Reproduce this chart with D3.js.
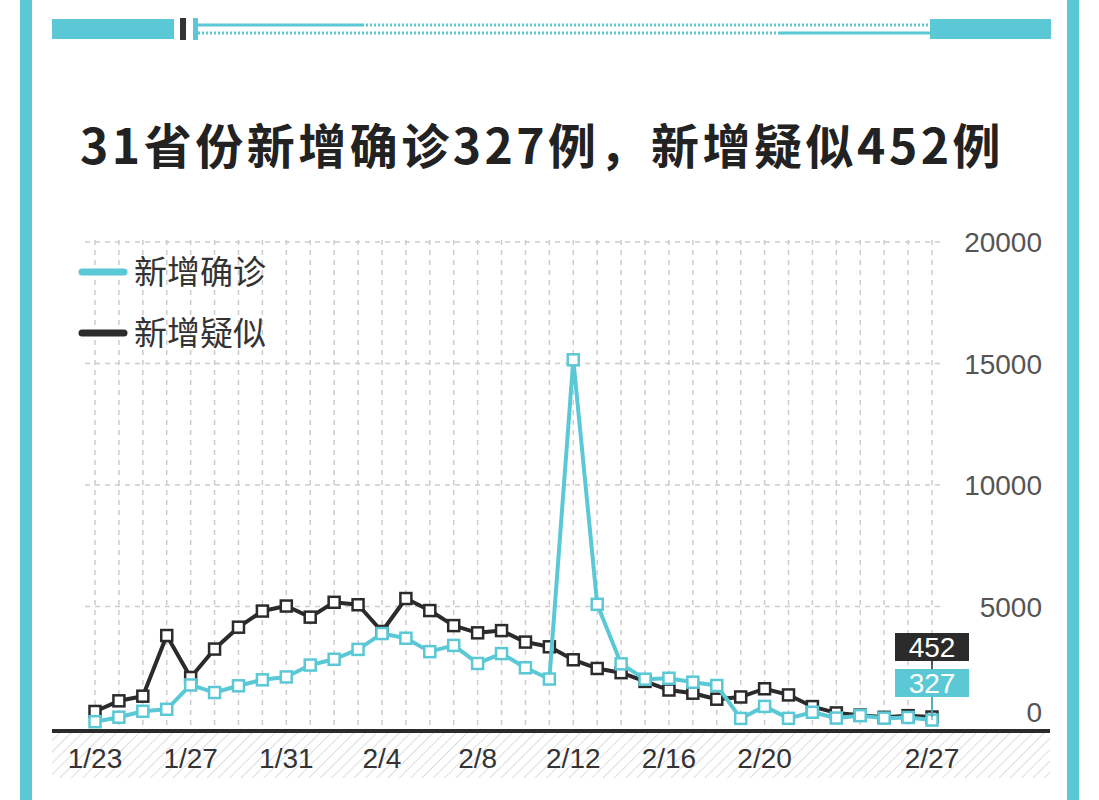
<!DOCTYPE html>
<html><head><meta charset="utf-8">
<script src="https://cdn.jsdelivr.net/npm/d3@7"></script>
<style>body{margin:0;background:#fff}svg{display:block}</style>
</head><body>
<svg id="c" width="1099" height="800"></svg>
<script>
const dates=["1/23","1/24","1/25","1/26","1/27","1/28","1/29","1/30","1/31","2/1","2/2","2/3","2/4","2/5","2/6","2/7","2/8","2/9","2/10","2/11","2/12","2/13","2/14","2/15","2/16","2/17","2/18","2/19","2/20","2/21","2/22","2/23","2/24","2/25","2/26","2/27"];
const confirmed=[259,444,688,769,1771,1459,1737,1982,2102,2590,2829,3235,3887,3694,3143,3399,2656,3062,2478,2015,15152,5090,2641,2009,2048,1886,1749,394,889,397,648,409,508,406,433,327];
const suspected=[680,1118,1309,3806,2077,3248,4148,4812,5019,4562,5173,5072,3971,5328,4833,4214,3916,4008,3536,3342,2807,2450,2277,1918,1563,1432,1185,1277,1614,1361,882,620,530,439,508,452];
const tickDates=["1/23","1/27","1/31","2/4","2/8","2/12","2/16","2/20","2/27"];
const yTicks=[0,5000,10000,15000,20000];
const teal="#5bc8d6", dark="#2b2b2b";
const svg=d3.select("#c");
svg.append("rect").attr("width",1099).attr("height",800).attr("fill","#fff");
svg.append("rect").attr("x",20).attr("y",0).attr("width",12).attr("height",800).attr("fill",teal);
svg.append("rect").attr("x",1067).attr("y",0).attr("width",12).attr("height",800).attr("fill",teal);
svg.append("rect").attr("x",52).attr("y",19).attr("width",122).attr("height",20).attr("fill",teal);
svg.append("rect").attr("x",930).attr("y",19).attr("width",121).attr("height",20).attr("fill",teal);
svg.append("rect").attr("x",180).attr("y",18).attr("width",6).attr("height",22).attr("fill","#333");
svg.append("rect").attr("x",193).attr("y",18).attr("width",5).attr("height",22).attr("fill",teal);
svg.append("line").attr("x1",198).attr("x2",362).attr("y1",25).attr("y2",25).attr("stroke",teal).attr("stroke-width",3);
svg.append("line").attr("x1",362).attr("x2",930).attr("y1",25).attr("y2",25).attr("stroke",teal).attr("stroke-width",3).attr("stroke-dasharray","2,2");
svg.append("line").attr("x1",198).attr("x2",780).attr("y1",33).attr("y2",33).attr("stroke",teal).attr("stroke-width",3).attr("stroke-dasharray","2,2");
svg.append("line").attr("x1",780).attr("x2",930).attr("y1",33).attr("y2",33).attr("stroke",teal).attr("stroke-width",3);
svg.append("text").attr("x",80).attr("y",164).text("31省份新增确诊327例，新增疑似452例")
 .attr("font-family","Noto Sans CJK SC").attr("font-weight","bold").attr("font-size",48).attr("letter-spacing",3.5).attr("fill","#222");
const x=d3.scalePoint().domain(dates).range([95,932]);
const y=d3.scaleLinear().domain([0,20000]).range([728,242]);
const defs=svg.append("defs");
const p=defs.append("pattern").attr("id","h").attr("width",8).attr("height",8).attr("patternUnits","userSpaceOnUse").attr("patternTransform","rotate(45)");
p.append("line").attr("x1",0).attr("y1",0).attr("x2",0).attr("y2",8).attr("stroke","#ddd").attr("stroke-width",2);
svg.append("rect").attr("x",52).attr("y",733).attr("width",998).attr("height",45).attr("fill","url(#h)");
svg.append("g").selectAll("line").data(dates).join("line").attr("x1",d=>x(d)).attr("x2",d=>x(d)).attr("y1",240).attr("y2",728)
 .attr("stroke","#ccc").attr("stroke-width",1.5).attr("stroke-dasharray","5,5");
svg.append("g").selectAll("line").data(yTicks.slice(1)).join("line").attr("x1",85).attr("x2",945).attr("y1",d=>y(d)).attr("y2",d=>y(d))
 .attr("stroke","#ccc").attr("stroke-width",1.5).attr("stroke-dasharray","5,5");
svg.append("g").selectAll("text").data(yTicks).join("text").attr("x",1042).attr("y",d=>y(d)+(d===0?-6:10)).attr("text-anchor","end")
 .attr("font-family","Liberation Sans").attr("font-size",28).attr("fill","#555").text(d=>d);
svg.append("line").attr("x1",52).attr("x2",1050).attr("y1",731).attr("y2",731).attr("stroke",dark).attr("stroke-width",4);
svg.append("g").selectAll("text").data(tickDates).join("text").attr("x",d=>x(d)).attr("y",768).attr("text-anchor","middle")
 .attr("font-family","Liberation Sans").attr("font-size",28).attr("fill","#333").text(d=>d);
function series(vals,col){
 const pts=dates.map((d,i)=>[x(d),y(vals[i])]);
 svg.append("path").attr("d",d3.line()(pts)).attr("fill","none").attr("stroke",col).attr("stroke-width",4).attr("stroke-linejoin","round");
 svg.append("g").selectAll("rect").data(pts).join("rect").attr("x",d=>d[0]-5.5).attr("y",d=>d[1]-5.5).attr("width",11).attr("height",11)
  .attr("fill","#fff").attr("stroke",col).attr("stroke-width",2.5);
}
series(suspected,dark);
series(confirmed,teal);
const ex=x("2/27");
svg.append("line").attr("x1",ex).attr("x2",ex).attr("y1",660).attr("y2",y(452)).attr("stroke",dark).attr("stroke-width",1.5);
svg.append("line").attr("x1",ex).attr("x2",ex).attr("y1",697).attr("y2",y(327)).attr("stroke",teal).attr("stroke-width",1.5);
svg.append("rect").attr("x",895).attr("y",633).attr("width",74).attr("height",28).attr("fill",dark);
svg.append("text").attr("x",932).attr("y",657).attr("text-anchor","middle").attr("font-family","Liberation Sans").attr("font-size",28).attr("fill","#fff").text(suspected[35]);
svg.append("rect").attr("x",895).attr("y",669).attr("width",74).attr("height",28).attr("fill",teal);
svg.append("text").attr("x",932).attr("y",693).attr("text-anchor","middle").attr("font-family","Liberation Sans").attr("font-size",28).attr("fill","#fff").text(confirmed[35]);
const leg=[["新增确诊",teal,272],["新增疑似",dark,333]];
leg.forEach(l=>{
 svg.append("line").attr("x1",82).attr("x2",124).attr("y1",l[2]).attr("y2",l[2]).attr("stroke",l[1]).attr("stroke-width",7).attr("stroke-linecap","round");
 svg.append("text").attr("x",134).attr("y",l[2]+12).attr("font-family","Noto Sans CJK SC").attr("font-size",33).attr("fill","#333").text(l[0]);
});
</script></body></html>
